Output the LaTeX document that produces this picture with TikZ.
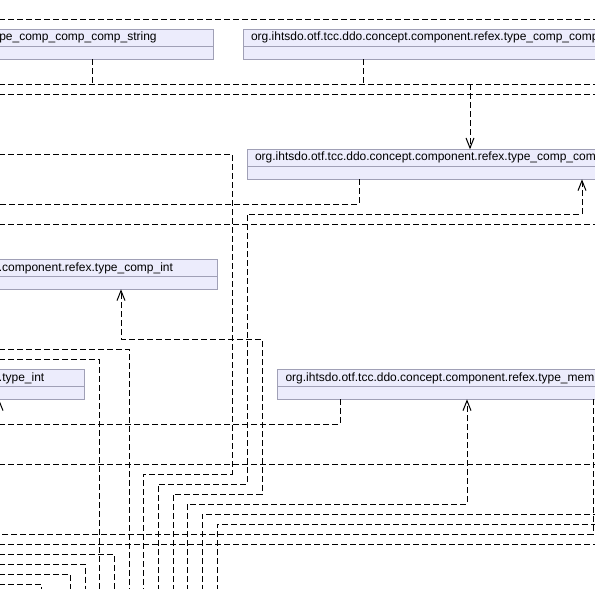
\documentclass[tikz,border=0pt]{standalone}
\usepackage{fontspec}
\setmainfont{Liberation Sans}
\usetikzlibrary{arrows.meta}
\definecolor{classfill}{RGB}{236,236,252}
\definecolor{classedge}{RGB}{160,160,182}
\begin{document}
\begin{tikzpicture}[x=1pt,y=-1pt,
  classhead/.style={draw=classedge, fill=classfill, line width=1pt,
    inner sep=0pt, outer sep=0pt, minimum height=17pt},
  classbody/.style={draw=classedge, fill=classfill, line width=1pt,
    inner sep=0pt, outer sep=0pt, minimum height=13pt},
  classname/.style={inner sep=0pt, outer sep=0pt, font=\fontsize{12}{14}\selectfont},
  dep/.style={draw=black, line width=1pt, dash pattern=on 6pt off 3pt},
  deparrow/.style={dep, -{Straight Barb[length=10pt,width=8pt]}}]
\useasboundingbox (0,0) rectangle (595,589);
\clip (0,0) rectangle (595,589);

% ---- classes: a name compartment over an empty body compartment ----
% type_comp_comp_comp_string
\node[classhead, minimum width=400pt, anchor=north east] (c1h) at (213,29.3) {};
\node[classbody, minimum width=400pt, anchor=north] (c1b) at (c1h.south) {};
\node[classname, anchor=base east] (c1t) at (156.7,40.8)
  {org.ihtsdo.otf.tcc.ddo.concept.component.refex.type\_comp\_comp\_comp\_string};
% type_comp_comp...
\node[classhead, minimum width=500pt, anchor=north west] (c2h) at (243,29.3) {};
\node[classbody, minimum width=500pt, anchor=north] (c2b) at (c2h.south) {};
\node[classname, anchor=base west] (c2t) at (251,40.8)
  {org.ihtsdo.otf.tcc.ddo.concept.component.refex.type\_comp\_comp};
% type_comp_com...
\node[classhead, minimum width=500pt, anchor=north west] (c3h) at (247,149.3) {};
\node[classbody, minimum width=500pt, anchor=north] (c3b) at (c3h.south) {};
\node[classname, anchor=base west] (c3t) at (255,160.8)
  {org.ihtsdo.otf.tcc.ddo.concept.component.refex.type\_comp\_com};
% type_comp_int
\node[classhead, minimum width=400pt, anchor=north east] (c4h) at (217,259.3) {};
\node[classbody, minimum width=400pt, anchor=north] (c4b) at (c4h.south) {};
\node[classname, anchor=base east] (c4t) at (173,271)
  {org.ihtsdo.otf.tcc.ddo.concept.component.refex.type\_comp\_int};
% type_int
\node[classhead, minimum width=400pt, anchor=north east] (c5h) at (84.3,369.3) {};
\node[classbody, minimum width=400pt, anchor=north] (c5b) at (c5h.south) {};
\node[classname, anchor=base east] (c5t) at (44.3,381)
  {org.ihtsdo.otf.tcc.ddo.concept.component.refex.type\_int};
% type_mem...
\node[classhead, minimum width=500pt, anchor=north west] (c6h) at (277.7,369.3) {};
\node[classbody, minimum width=500pt, anchor=north] (c6b) at (c6h.south) {};
\node[classname, anchor=base west] (c6t) at (285.5,381)
  {org.ihtsdo.otf.tcc.ddo.concept.component.refex.type\_mem};

% ---- dependency lines running off both sides ----
\draw[dep] (-10,19.3) -- (605,19.3);
\draw[dep] (-10,94.3) -- (605,94.3);
\draw[dep] (-10,224.3) -- (605,224.3);
\draw[dep] (-10,464.3) -- (605,464.3);
\draw[dep] (-10,544.3) -- (605,544.3);

% shared trunk at the top
\coordinate (trunk) at (470,84.3);
\draw[dep] (-10,84.3) -- (605,84.3);
\draw[dep] (92,0 |- c1b.south) -- (92,84.3);
\draw[dep] (363,0 |- c2b.south) -- (363,84.3);
\draw[deparrow] (trunk) -- (trunk |- c3h.north);

% from c3
\draw[dep] (359,0 |- c3b.south) -- (359,204.3) -- (-10,204.3);
\draw[dep] (-10,154.3) -- (232,154.3) -- (232,474.3) -- (143,474.3) -- (143,600);
\draw[deparrow] (158,600) -- (158,484.3) -- (247,484.3) -- (247,214.3)
  -- (582,214.3) -- (582,0 |- c3b.south);

% into c4
\draw[deparrow] (173,600) -- (173,494.3) -- (262,494.3) -- (262,339.3)
  -- (121,339.3) -- (121,0 |- c4b.south);
\draw[dep] (-10,349.3) -- (129,349.3) -- (129,600);
\draw[dep] (-10,359.3) -- (99,359.3) -- (99,600);

% from c6 into c5
\draw[deparrow] (340,0 |- c6b.south) -- (340,424.3) -- (-1,424.3) -- (-1,0 |- c5b.south);

% into c6
\draw[deparrow] (187,600) -- (187,504.3) -- (467,504.3) -- (467,0 |- c6b.south);
\draw[dep] (593,0 |- c6b.south) -- (593,534.3) -- (-10,534.3);

% lower bundle
\draw[dep] (202,600) -- (202,514.3) -- (605,514.3);
\draw[dep] (217,600) -- (217,524.3) -- (605,524.3);
\draw[dep] (-10,554.3) -- (114.3,554.3) -- (114.3,600);
\draw[dep] (-10,564.3) -- (85.7,564.3) -- (85.7,600);
\draw[dep] (-10,574.3) -- (70.3,574.3) -- (70.3,600);
\draw[dep] (-10,584.3) -- (41.3,584.3) -- (41.3,600);
\end{tikzpicture}
\end{document}
